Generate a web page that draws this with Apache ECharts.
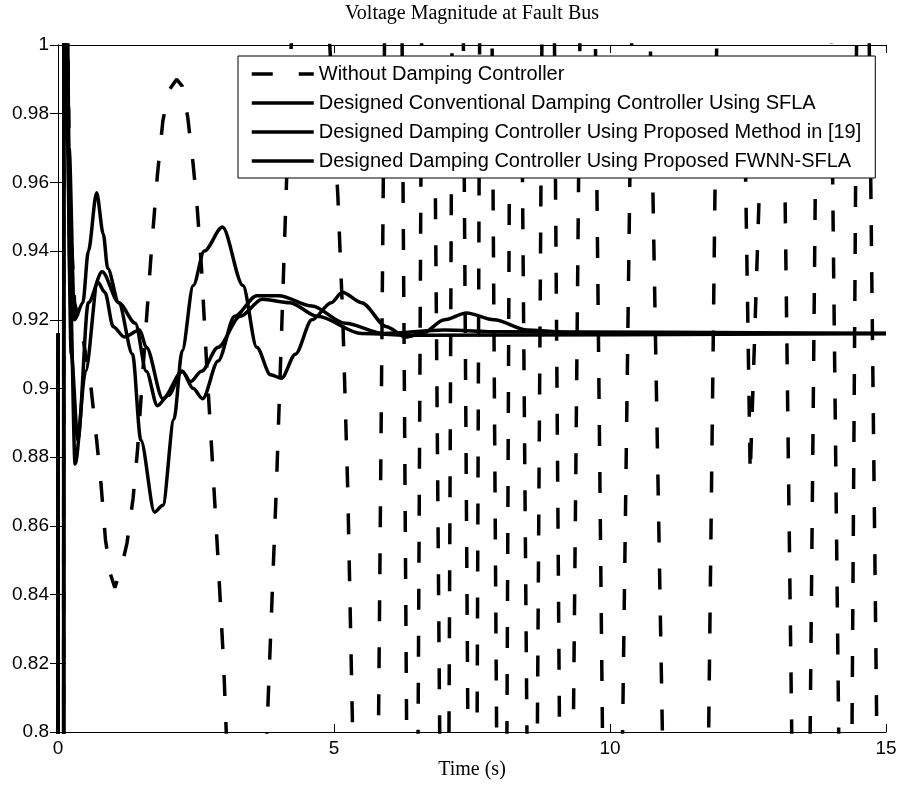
<!DOCTYPE html>
<html><head><meta charset="utf-8">
<script src="https://cdn.jsdelivr.net/npm/echarts@6/dist/echarts.min.js"></script>
<style>html,body{margin:0;padding:0;background:#fff}#c{width:901px;height:798px}</style>
</head><body><div id="c"></div>
<script>
const titleText = 'Voltage Magnitude at Fault Bus';
const xAxisTitle = 'Time (s)';
const seriesNames = [
  'Without Damping Controller',
  'Designed Conventional Damping Controller Using SFLA',
  'Designed Damping Controller Using Proposed Method in [19]',
  'Designed Damping Controller Using Proposed FWNN-SFLA'
];
const xMin = 0, xMax = 15, xStep = 5;
const yMin = 0.8, yMax = 1, yStep = 0.02;

// Without damping controller (unstable, leaves the window repeatedly)
const tWithout = [0, 0.005, 0.1, 0.105, 0.16, 0.22, 0.3, 0.45, 0.6, 0.7, 0.78, 0.86, 0.95, 1.03, 1.15, 1.25, 1.36, 1.44, 1.58, 1.7, 1.8, 1.9, 2.02, 2.15, 2.25, 2.35, 2.45, 2.52, 2.6, 2.7, 2.8, 2.9, 3.0, 3.06, 3.4, 3.76, 3.96, 4.07, 4.15, 4.2, 4.25, 4.6, 4.89, 5.07, 5.16, 5.25, 5.35,
  5.80, 5.92, 6.23, 6.32, 6.52, 6.59, 6.81, 6.92, 7.08, 7.14, 7.34, 7.43, 7.59, 7.64, 7.86, 7.95, 8.13, 8.19, 8.39, 8.50, 8.68, 8.77, 8.99, 9.09, 9.33, 9.46, 9.73, 9.87, 10.22, 10.40, 10.72, 10.96, 11.78, 11.94, 12.41, 12.54, 12.81, 13.13, 13.30, 13.62, 13.75, 14.00, 14.15, 14.38, 14.47, 14.69, 14.84, 15];
const vWithout = [0.916, 0.5, 0.5, 1.1, 1.02, 0.95, 0.925, 0.915, 0.9, 0.885, 0.872, 0.856, 0.846, 0.842, 0.848, 0.855, 0.868, 0.882, 0.915, 0.942, 0.962, 0.978, 0.987, 0.99, 0.988, 0.979, 0.965, 0.953, 0.935, 0.905, 0.878, 0.85, 0.82, 0.795, 0.6, 0.79, 0.873, 0.926, 0.965, 0.99, 1.01, 1.15, 1.01, 0.956, 0.92, 0.87, 0.79,
  0.79, 1.01, 1.01, 0.79, 0.79, 1.01, 1.01, 0.79, 0.79, 1.01, 1.01, 0.79, 0.79, 1.01, 1.01, 0.79, 0.79, 1.01, 1.01, 0.79, 0.79, 1.01, 1.01, 0.79, 0.79, 1.01, 1.01, 0.79, 0.79, 1.01, 1.01, 0.79, 0.79, 1.01, 1.01, 0.875, 1.01, 1.01, 0.79, 0.79, 1.01, 1.01, 0.79, 0.79, 1.01, 1.01, 0.79, 0.79];

// Conventional SFLA controller
const tSFLA = [0, 0.005, 0.1, 0.105, 0.15, 0.2, 0.3, 0.45, 0.55, 0.7, 0.82, 0.9, 1.1, 1.35, 1.5, 1.75, 1.9, 2.1, 2.25, 2.45, 2.65, 2.98, 3.35, 3.6, 3.85, 4.05, 4.3, 4.6, 4.95, 5.15, 5.5, 5.95, 6.3, 6.6, 7.0, 7.4, 7.9, 8.5, 9.5, 15];
const vSFLA = [0.916, 0.5, 0.5, 1.1, 1.05, 0.97, 0.92, 0.925, 0.94, 0.957, 0.945, 0.935, 0.925, 0.91, 0.885, 0.864, 0.866, 0.891, 0.911, 0.93, 0.94, 0.947, 0.93, 0.912, 0.904, 0.903, 0.91, 0.92, 0.925, 0.928, 0.925, 0.918, 0.915, 0.916, 0.92, 0.922, 0.92, 0.917, 0.916, 0.916];

// Proposed method in [19]
const tRef19 = [0, 0.005, 0.1, 0.105, 0.16, 0.24, 0.36, 0.55, 0.8, 1.1, 1.4, 1.6, 1.8, 2.0, 2.25, 2.4, 2.6, 2.9, 3.3, 3.7, 4.2, 4.7, 5.5, 6.5, 15];
const vRef19 = [0.916, 0.5, 0.5, 1.1, 0.98, 0.91, 0.885, 0.925, 0.934, 0.925, 0.919, 0.905, 0.895, 0.898, 0.905, 0.902, 0.905, 0.912, 0.921, 0.926, 0.925, 0.921, 0.916, 0.9155, 0.916];

// Proposed FWNN-SFLA
const tFWNN = [0, 0.005, 0.1, 0.105, 0.16, 0.22, 0.31, 0.5, 0.72, 0.85, 1.0, 1.2, 1.48, 1.6, 1.9, 2.25, 2.45, 2.62, 2.9, 3.2, 3.6, 4.0, 4.6, 5.2, 5.9, 7.0, 8.0, 15];
const vFWNN = [0.916, 0.5, 0.5, 1.1, 1.0, 0.93, 0.878, 0.905, 0.931, 0.928, 0.918, 0.915, 0.917, 0.912, 0.897, 0.905, 0.9, 0.897, 0.908, 0.921, 0.927, 0.927, 0.924, 0.919, 0.916, 0.917, 0.9165, 0.916];

const zip = (t, v) => t.map((x, i) => [x, v[i]]);
const black = '#000';
const axisFont = 'Liberation Sans';

function solid(name, t, v) {
  return { type: 'line', name, data: zip(t, v), symbol: 'none', showSymbol: false,
    smooth: 0.3, smoothMonotone: 'x', clip: true,
    lineStyle: { color: black, width: 3.5 }, itemStyle: { color: black } };
}

const chart = echarts.init(document.getElementById('c'), null, { renderer: 'canvas' });
const commonAxisLine = { show: true, lineStyle: { color: black, width: 1 } };
chart.setOption({
  animation: false,
  backgroundColor: '#fff',
  grid: { left: 58, right: 15, top: 45, bottom: 66 },
  xAxis: [
    { type: 'value', min: xMin, max: xMax, interval: xStep, position: 'bottom',
      axisLine: commonAxisLine, axisTick: { inside: true, length: 8, lineStyle: { color: black } },
      axisLabel: { color: black, fontFamily: axisFont, fontSize: 19, margin: 7 },
      splitLine: { show: false } },
    { type: 'value', min: xMin, max: xMax, interval: xStep, position: 'top',
      axisLine: commonAxisLine, axisTick: { inside: true, length: 8, lineStyle: { color: black } },
      axisLabel: { show: false }, splitLine: { show: false } }
  ],
  yAxis: [
    { type: 'value', min: yMin, max: yMax, interval: yStep, position: 'left',
      axisLine: commonAxisLine, axisTick: { inside: true, length: 8, lineStyle: { color: black } },
      axisLabel: { color: black, fontFamily: axisFont, fontSize: 19, margin: 9,
        formatter: v => String(parseFloat(v.toFixed(2))) },
      splitLine: { show: false } },
    { type: 'value', min: yMin, max: yMax, interval: yStep, position: 'right',
      axisLine: commonAxisLine, axisTick: { inside: true, length: 8, lineStyle: { color: black } },
      axisLabel: { show: false }, splitLine: { show: false } }
  ],
  legend: {
    orient: 'vertical', left: 238, top: 56,
    padding: [8, 14, 7, 12], itemGap: 9, itemWidth: 62, itemHeight: 14,
    backgroundColor: '#fff', borderColor: black, borderWidth: 1, borderRadius: 0,
    itemStyle: { opacity: 0, borderWidth: 0 },
    lineStyle: { width: 3.5 },
    textStyle: { color: black, fontFamily: axisFont, fontSize: 20, lineHeight: 19 },
    data: seriesNames
  },
  graphic: [
    { type: 'text', x: 472, y: 14, style: { text: titleText, font: '20px "Liberation Serif"', fill: black, textAlign: 'center', textVerticalAlign: 'middle' } },
    { type: 'text', x: 472, y: 770, style: { text: xAxisTitle, font: '20px "Liberation Serif"', fill: black, textAlign: 'center', textVerticalAlign: 'middle' } }
  ],
  series: [
    { type: 'line', name: seriesNames[0], data: zip(tWithout, vWithout), symbol: 'none', showSymbol: false,
      smooth: false, clip: true,
      lineStyle: { color: black, width: 3.5, type: [21, 26], cap: 'butt' }, itemStyle: { color: black } },
    solid(seriesNames[1], tSFLA, vSFLA),
    solid(seriesNames[2], tRef19, vRef19),
    solid(seriesNames[3], tFWNN, vFWNN)
  ]
});
</script></body></html>
